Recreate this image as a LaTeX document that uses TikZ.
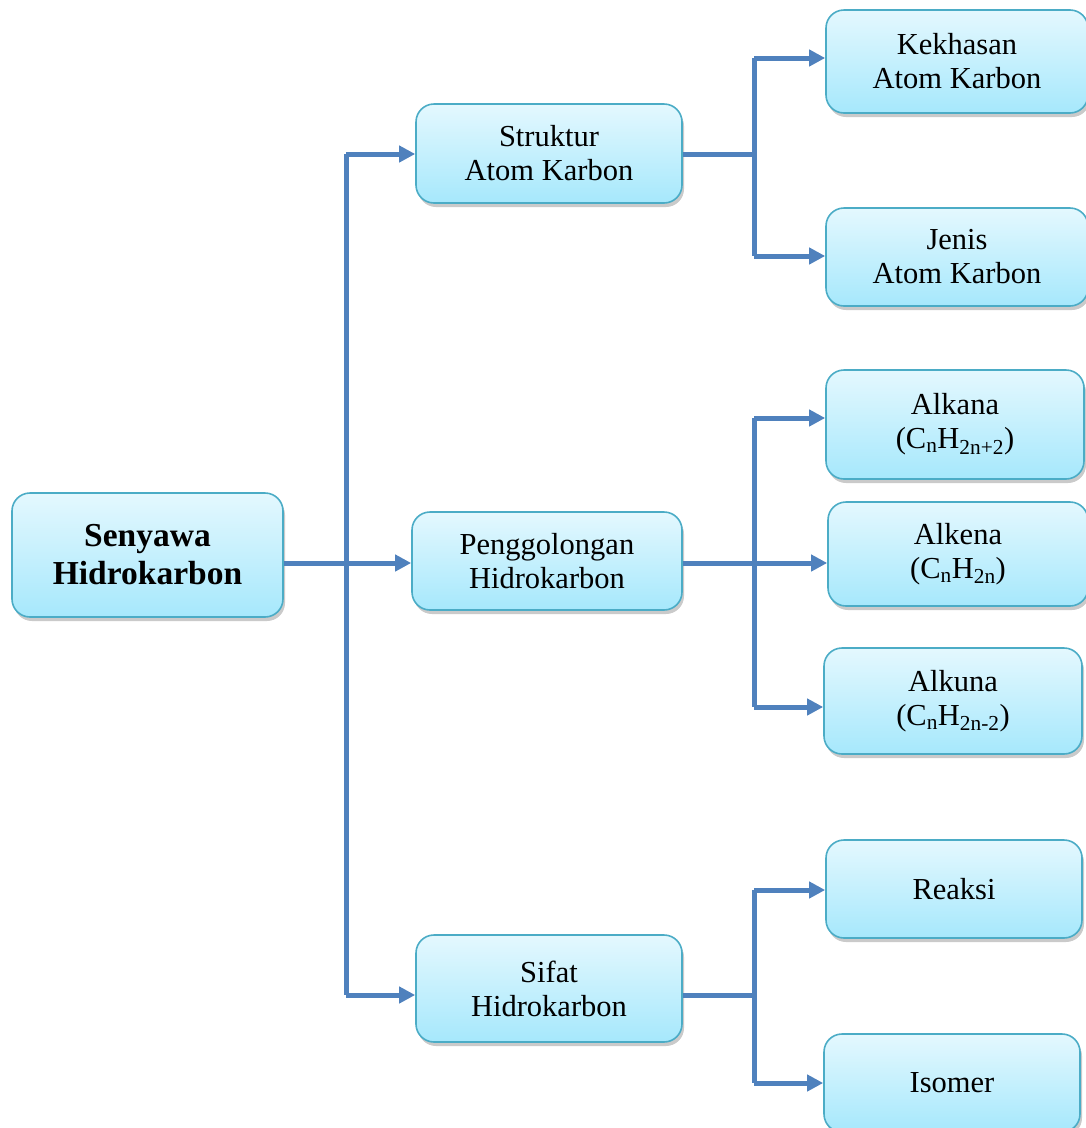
\documentclass[tikz,border=0pt]{standalone}
\usepackage{fontspec}
\setmainfont{Liberation Serif}
\usetikzlibrary{arrows.meta,shadows}
\definecolor{boxtop}{RGB}{228,248,254}
\definecolor{boxbot}{RGB}{166,232,252}
\definecolor{boxline}{RGB}{75,172,198}
\definecolor{linkblue}{RGB}{79,129,189}
\tikzset{
  box/.style={rounded corners=18pt, draw=boxline, line width=1.6pt,
    top color=boxtop, bottom color=boxbot, align=center,
    font=\fontsize{30.5}{34}\selectfont, inner sep=0pt,
    drop shadow={shadow xshift=2pt, shadow yshift=-4pt, opacity=0.35, fill=black!60}},
  link/.style={draw=linkblue, line width=5pt},
  arr/.style={link, -{Triangle[length=16pt,width=16pt]}},
}
\begin{document}
\begin{tikzpicture}[x=1pt,y=-1pt]
\useasboundingbox (0,0) rectangle (1086,1128);
% level 0
\node[box, minimum width=271pt, minimum height=124pt,
      font=\fontsize{33.5}{38}\selectfont\bfseries] (root) at (147.5,555) {Senyawa\\Hidrokarbon};
% level 1
\node[box, minimum width=266pt, minimum height=99pt] (struk) at (549,153.5) {Struktur\\Atom Karbon};
\node[box, minimum width=270pt, minimum height=98pt] (peng) at (547,561) {Penggolongan\\Hidrokarbon};
\node[box, minimum width=266pt, minimum height=107pt] (sifat) at (549,988.5) {Sifat\\Hidrokarbon};
% level 2
\node[box, minimum width=262pt, minimum height=103pt] (khas) at (957,61.5) {Kekhasan\\Atom Karbon};
\node[box, minimum width=262pt, minimum height=98pt] (jenis) at (957,257) {Jenis\\Atom Karbon};
\node[box, minimum width=258pt, minimum height=109pt] (alkana) at (955,424.5) {Alkana\\(C\textsubscript{n}H\textsubscript{2n+2})};
\node[box, minimum width=260pt, minimum height=104pt] (alkena) at (958,554) {Alkena\\(C\textsubscript{n}H\textsubscript{2n})};
\node[box, minimum width=258pt, minimum height=106pt] (alkuna) at (953,701) {Alkuna\\(C\textsubscript{n}H\textsubscript{2n-2})};
\node[box, minimum width=256pt, minimum height=98pt] (reaksi) at (954,889) {Reaksi};
\node[box, minimum width=256pt, minimum height=98pt] (isomer) at (952,1083) {Isomer};
% junction coordinates
\coordinate (t0) at (346,563);
\coordinate (t0a) at (346,154);
\coordinate (t0c) at (346,995);
\coordinate (t1) at (754,154);
\coordinate (t1a) at (754,58);
\coordinate (t1b) at (754,256);
\coordinate (t2) at (754,563);
\coordinate (t2a) at (754,418);
\coordinate (t2c) at (754,707);
\coordinate (t3) at (754,995);
\coordinate (t3a) at (754,890);
\coordinate (t3b) at (754,1083);
% level 0 -> 1
\draw[link] (t0a) -- (t0c);
\draw[arr] (root.east |- t0) -- (peng.west |- t0);
\draw[arr] (t0a) -- (struk.west |- t0a);
\draw[arr] (t0c) -- (sifat.west |- t0c);
% struktur
\draw[link] (struk.east |- t1) -- (t1);
\draw[link] (t1a) -- (t1b);
\draw[arr] (t1a) -- (khas.west |- t1a);
\draw[arr] (t1b) -- (jenis.west |- t1b);
% penggolongan
\draw[link] (t2a) -- (t2c);
\draw[arr] (peng.east |- t2) -- (alkena.west |- t2);
\draw[arr] (t2a) -- (alkana.west |- t2a);
\draw[arr] (t2c) -- (alkuna.west |- t2c);
% sifat
\draw[link] (sifat.east |- t3) -- (t3);
\draw[link] (t3a) -- (t3b);
\draw[arr] (t3a) -- (reaksi.west |- t3a);
\draw[arr] (t3b) -- (isomer.west |- t3b);
\end{tikzpicture}
\end{document}
